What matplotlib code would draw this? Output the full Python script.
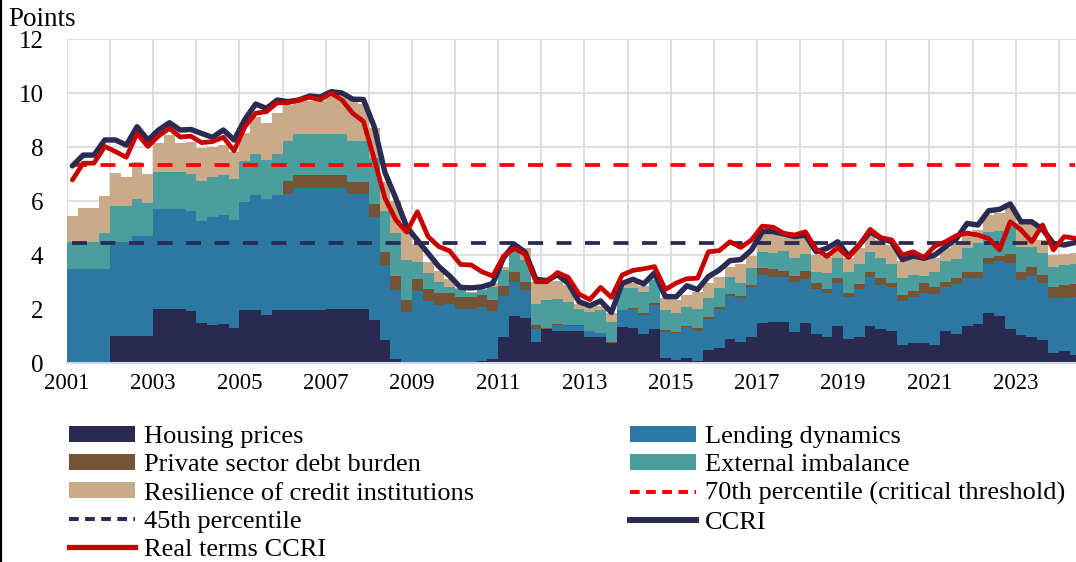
import numpy as np
import matplotlib
matplotlib.use("Agg")
import matplotlib.pyplot as plt
from matplotlib.patches import Patch
from matplotlib.lines import Line2D

plt.rcParams['font.family'] = ['Liberation Serif', 'DejaVu Serif']

# ---------------- data (quarterly, 2001Q1 .. 2024Q2) ----------------
start_year = 2001
year_ticks = [2001, 2003, 2005, 2007, 2009, 2011, 2013, 2015, 2017, 2019, 2021, 2023]
y_ticks = [0, 2, 4, 6, 8, 10, 12]

# cumulative top of each stacked component (points)
housing_cum = [0, 0, 0, 0, 1.0, 1.0, 1.0, 1.0, 2.0, 2.0, 2.0, 1.93,
               1.48, 1.4, 1.45, 1.28, 1.98, 1.98, 1.77, 1.98, 1.98, 1.98, 1.98, 1.98,
               2.0, 2.0, 2.0, 2.0, 1.58, 0.85, 0.14, 0, 0, 0, 0, 0,
               0, 0.04, 0.07, 0.15, 0.97, 1.75, 1.68, 0.78, 1.26, 1.18, 1.18, 1.2,
               0.98, 0.98, 0.75, 1.35, 1.28, 1.07, 1.26, 0.17, 0.11, 0.17, 0.09, 0.48,
               0.57, 0.88, 0.77, 0.98, 1.47, 1.53, 1.53, 1.16, 1.47, 1.07, 0.98, 1.37,
               0.88, 0.98, 1.37, 1.25, 1.17, 0.67, 0.75, 0.75, 0.67, 1.17, 1.07, 1.37,
               1.45, 1.84, 1.75, 1.25, 1.05, 0.96, 0.86, 0.36, 0.46, 0.3]

lending_cum = [3.47, 3.47, 3.47, 3.47, 4.47, 4.47, 4.72, 4.72, 5.70, 5.70, 5.70, 5.63,
               5.26, 5.39, 5.48, 5.30, 5.97, 6.22, 6.06, 6.22, 6.25, 6.49, 6.49, 6.49,
               6.49, 6.49, 6.26, 6.26, 5.42, 3.63, 2.72, 1.88, 2.68, 2.28, 2.15, 2.18,
               1.99, 1.99, 2.09, 1.94, 2.48, 3.01, 2.70, 1.27, 1.26, 1.39, 1.37, 1.37,
               1.17, 1.1, 0.75, 1.96, 1.99, 1.78, 2.15, 1.16, 1.1, 1.32, 1.2, 1.62,
               1.99, 2.49, 2.40, 2.80, 3.26, 3.17, 3.17, 3.01, 3.1, 2.73, 2.58, 2.95,
               2.43, 2.73, 3.17, 2.89, 2.80, 2.31, 2.43, 2.60, 2.56, 2.80, 2.92, 3.14,
               3.14, 3.67, 3.79, 3.72, 3.07, 3.22, 2.95, 2.40, 2.40, 2.43]

debt_cum = [3.47, 3.47, 3.47, 3.47, 4.47, 4.47, 4.72, 4.72, 5.70, 5.70, 5.70, 5.63,
            5.26, 5.39, 5.48, 5.30, 5.97, 6.22, 6.06, 6.22, 6.74, 6.96, 6.96, 6.96,
            6.96, 6.96, 6.72, 6.72, 5.89, 4.12, 3.22, 2.33, 3.11, 2.73, 2.58, 2.6,
            2.45, 2.45, 2.53, 2.33, 2.85, 3.38, 3.01, 1.42, 1.3, 1.44, 1.39, 1.4,
            1.2, 1.12, 0.78, 1.97, 2.02, 1.86, 2.24, 1.22, 1.15, 1.38, 1.3, 1.72,
            2.06, 2.54, 2.50, 2.90, 3.51, 3.47, 3.40, 3.22, 3.40, 2.95, 2.73, 3.14,
            2.58, 2.93, 3.38, 3.14, 2.95, 2.52, 2.68, 2.95, 2.83, 3.01, 3.14, 3.38,
            3.38, 3.88, 3.96, 4.04, 3.38, 3.57, 3.26, 2.83, 2.89, 2.93]

external_cum = [4.49, 4.49, 4.49, 4.83, 5.81, 5.81, 6.09, 5.94, 7.09, 7.09, 7.09, 7.0,
                6.75, 6.9, 6.96, 6.8, 7.48, 7.74, 7.52, 7.74, 8.22, 8.5, 8.5, 8.5,
                8.5, 8.5, 8.23, 8.23, 7.6, 5.63, 4.8, 3.81, 3.75, 3.32, 3.0, 2.82,
                2.75, 2.6, 2.75, 2.8, 3.44, 4.19, 3.81, 2.18, 2.35, 2.38, 2.27, 2.0,
                1.9, 1.96, 1.53, 2.77, 2.77, 2.64, 3.07, 1.96, 1.84, 2.06, 2.0, 2.40,
                2.77, 3.17, 2.95, 3.51, 4.12, 4.06, 4.16, 3.88, 4.04, 3.38, 3.32, 3.88,
                3.38, 3.67, 4.12, 3.88, 3.67, 3.14, 3.26, 3.22, 3.38, 3.79, 3.85, 4.25,
                4.46, 4.86, 4.9, 5.02, 4.28, 4.28, 4.08, 3.57, 3.63, 3.67]

resilience_cum = [5.44, 5.73, 5.73, 6.19, 7.05, 6.9, 7.44, 7.0, 8.16, 8.44, 8.16, 8.2,
                  7.95, 8.0, 8.07, 7.83, 8.53, 9.12, 8.9, 9.25, 9.55, 9.7, 9.7, 9.7,
                  9.95, 9.8, 9.74, 9.6, 8.7, 6.7, 6.0, 5.0, 4.4, 3.75, 3.4, 3.1,
                  2.77, 2.64, 2.7, 2.95, 3.57, 4.25, 4.25, 3.0, 3.03, 3.05, 2.89, 2.2,
                  2.07, 2.1, 1.84, 2.95, 2.95, 2.85, 3.2, 2.40, 2.33, 2.52, 2.64, 2.95,
                  3.2, 3.57, 3.67, 3.96, 4.74, 4.74, 4.7, 4.62, 4.68, 4.0, 3.92, 4.25,
                  3.88, 4.25, 4.74, 4.56, 4.37, 3.79, 3.88, 3.83, 3.88, 4.25, 4.42, 4.74,
                  4.93, 5.48, 5.57, 5.81, 5.17, 5.15, 4.56, 4.0, 4.04, 4.06]

ccri = [7.3, 7.7, 7.7, 8.26, 8.26, 8.07, 8.75, 8.26, 8.63, 8.9, 8.63, 8.65,
        8.5, 8.36, 8.63, 8.26, 9.02, 9.59, 9.43, 9.74, 9.68, 9.74, 9.89, 9.85,
        10.05, 10.0, 9.77, 9.76, 8.75, 7.05, 6.1, 5.05, 4.55, 4.06, 3.57, 3.22,
        2.8, 2.78, 2.82, 2.95, 3.9, 4.4, 4.1, 3.1, 3.05, 3.27, 2.95, 2.27,
        2.12, 2.3, 1.87, 2.95, 3.1, 2.93, 3.34, 2.46, 2.45, 2.86, 2.72, 3.2,
        3.44, 3.79, 3.83, 4.19, 4.86, 4.86, 4.78, 4.68, 4.74, 4.12, 4.25, 4.49,
        3.96, 4.37, 4.86, 4.62, 4.49, 3.83, 3.96, 3.88, 4.0, 4.31, 4.6, 5.17,
        5.11, 5.64, 5.69, 5.89, 5.23, 5.23, 4.95, 4.43, 4.37, 4.46]

real_ccri = [6.78, 7.4, 7.4, 8.02, 7.83, 7.62, 8.5, 8.02, 8.41, 8.69, 8.37, 8.4,
             8.16, 8.2, 8.36, 7.86, 8.75, 9.25, 9.31, 9.64, 9.64, 9.74, 9.84, 9.75,
             10.0, 9.75, 9.25, 8.95, 7.55, 6.1, 5.3, 4.85, 5.6, 4.68, 4.31, 4.15,
             3.65, 3.63, 3.38, 3.22, 3.96, 4.25, 4.03, 3.01, 3.01, 3.35, 3.17, 2.55,
             2.35, 2.8, 2.43, 3.26, 3.43, 3.49, 3.57, 2.72, 2.96, 3.12, 3.14, 4.12,
             4.16, 4.49, 4.28, 4.56, 5.07, 5.03, 4.80, 4.74, 4.86, 4.21, 3.95, 4.28,
             3.91, 4.37, 4.95, 4.64, 4.56, 4.0, 4.12, 3.91, 4.33, 4.49, 4.72, 4.81,
             4.74, 4.61, 4.19, 5.23, 4.93, 4.49, 5.11, 4.19, 4.68, 4.62]

threshold_70 = 7.33
threshold_45 = 4.45

labels = ["Housing prices", "Lending dynamics", "Private sector debt burden",
          "External imbalance", "Resilience of credit institutions",
          "70th percentile (critical threshold)", "45th percentile", "CCRI",
          "Real terms CCRI"]

# ---------------- styling ----------------
c_housing = '#2a2a50'
c_lending = '#2b78a3'
c_debt = '#735535'
c_external = '#4a9e9e'
c_resil = '#c9ab89'
c_red_dash = '#ff0000'
c_navy = '#2a2a52'
c_red = '#c80000'

W, H = 1076, 562
fig = plt.figure(figsize=(W / 100, H / 100), dpi=100)
ax = fig.add_axes([67 / W, 1 - 363 / H, 1 - 67 / W, 324 / H])

n = len(ccri)
edges = start_year + np.arange(n + 1) / 4.0
centers = start_year + (np.arange(n) + 0.5) / 4.0


def ext(a):
    a = np.asarray(a, dtype=float)
    return np.append(a, a[-1])


zero = np.zeros(n)
layers = [(zero, housing_cum, c_housing),
          (housing_cum, lending_cum, c_lending),
          (lending_cum, debt_cum, c_debt),
          (debt_cum, external_cum, c_external),
          (external_cum, resilience_cum, c_resil)]
for lo, hi, col in layers:
    ax.fill_between(edges, ext(lo), ext(hi), step='post', color=col,
                    linewidth=0, zorder=2)

ax.plot(centers, np.full(n, threshold_70), color=c_red_dash, lw=2.7,
        dashes=(4.0, 3.6), zorder=3)
ax.plot(centers, np.full(n, threshold_45), color=c_navy, lw=2.7,
        dashes=(4.0, 3.6), zorder=3)
ax.plot(centers, ccri, color=c_navy, lw=3.9, solid_joinstyle='round',
        solid_capstyle='round', zorder=4)
ax.plot(centers, real_ccri, color=c_red, lw=3.4, solid_joinstyle='round',
        solid_capstyle='round', zorder=5)

ax.set_xlim(start_year, start_year + 93.6 / 4)
ax.set_ylim(0, 12)
ax.set_yticks(y_ticks)
ax.set_xticks(year_ticks)
ax.set_xticks(np.arange(2001, 2025), minor=True)
ax.set_xticklabels([str(y) for y in year_ticks])
ax.tick_params(axis='both', which='both', length=0, colors='black')
ax.tick_params(axis='x', labelsize=16.5, pad=7)
ax.tick_params(axis='y', labelsize=18, pad=17)
ax.grid(True, which='both', axis='x', color='#d9d9d9', lw=1.2)
ax.grid(True, which='major', axis='y', color='#d9d9d9', lw=1.2)
ax.set_axisbelow(True)
for s in ['top', 'right', 'left']:
    ax.spines[s].set_visible(False)
ax.spines['bottom'].set_color('#d4d4e4')
ax.spines['bottom'].set_linewidth(1.5)
ax.spines['bottom'].set_zorder(6)

fig.text(8 / W, 1 - 19 / H, "Points", fontsize=19.5, va='center', ha='left')

# left border line of the frame
fig.add_artist(Line2D([1.0 / W, 1.0 / W], [0, 1], transform=fig.transFigure,
                      color='black', lw=1.6))

# legend (row-major layout emulated with column-major ordering)
h_housing = Patch(facecolor=c_housing, edgecolor='none')
h_lending = Patch(facecolor=c_lending, edgecolor='none')
h_debt = Patch(facecolor=c_debt, edgecolor='none')
h_ext = Patch(facecolor=c_external, edgecolor='none')
h_res = Patch(facecolor=c_resil, edgecolor='none')
h_70 = Line2D([], [], color=c_red_dash, lw=2.9, dashes=(2.4, 1.6))
h_45 = Line2D([], [], color=c_navy, lw=2.9, dashes=(2.4, 1.6))
h_ccri = Line2D([], [], color=c_navy, lw=4.3)
h_real = Line2D([], [], color=c_red, lw=3.8)

handles = [h_housing, h_debt, h_res, h_45, h_real, h_lending, h_ext, h_70, h_ccri]
leg_labels = [labels[0], labels[2], labels[4], labels[6], labels[8],
              labels[1], labels[3], labels[5], labels[7]]
fig.legend(handles, leg_labels, loc='upper left',
           bbox_to_anchor=(69 / W, 1 - 426 / H), ncol=2, frameon=False,
           fontsize=19, borderpad=0, borderaxespad=0, handlelength=2.5,
           handleheight=0.53, handletextpad=0.34, labelspacing=0.23,
           columnspacing=5.9)

fig.savefig("out.png", dpi=100)
